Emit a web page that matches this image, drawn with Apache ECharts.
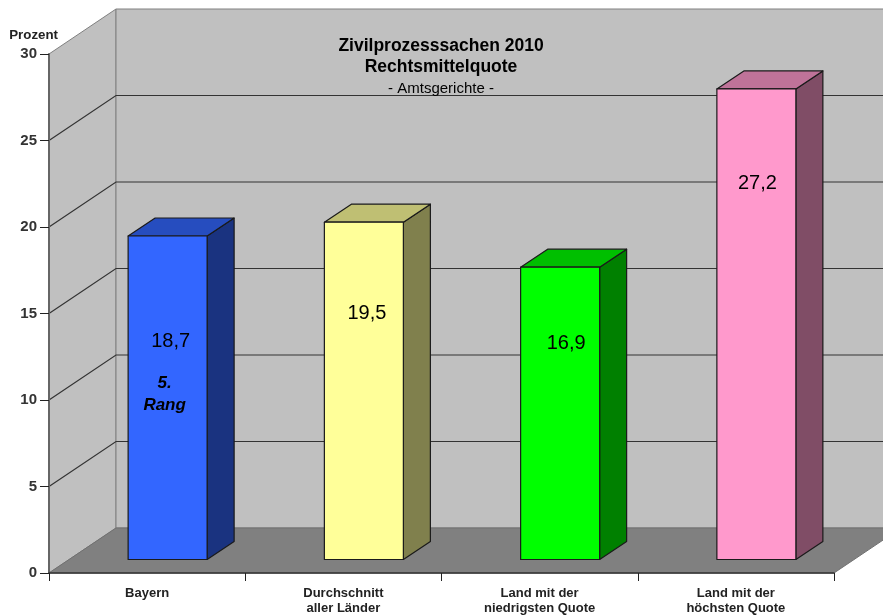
<!DOCTYPE html>
<html>
<head>
<meta charset="utf-8">
<style>html,body{margin:0;padding:0;background:#fff;overflow:hidden}#c{width:883px;height:616px}</style>
<script src="https://cdn.jsdelivr.net/npm/echarts@6/dist/echarts.min.js"></script>
</head>
<body>
<div id="c"></div>
<script>
const categories = ['Bayern', 'Durchschnitt\naller Länder', 'Land mit der\nniedrigsten Quote', 'Land mit der\nhöchsten Quote'];
const values = [18.7, 19.5, 16.9, 27.2];
const notes = ['5.\nRang', '', '', ''];
const yTicks = [0, 5, 10, 15, 20, 25, 30];

const frontColors = ['#3366ff', '#ffff99', '#00ff00', '#ff99cc'];
const topColors = ['#264dbf', '#bfbf73', '#00bf00', '#bf7399'];
const sideColors = ['#1a3380', '#80804d', '#008000', '#804d66'];
const labelY = [341, 313, 343, 183];
const labelX = [3, 3, 6, 1];
const noteY = [394, 0, 0, 0];

const WALL_DX = 67, WALL_DY = 45;
const BAR_DX = 20.5, BAR_DY = 13.5;
const DEPTH_DX = 27, DEPTH_DY = 18;
const BAR_W = 79;
const FONT = '"Liberation Sans", Arial, sans-serif';

function renderWalls(params, api) {
  const band = api.size([1, 0])[0];
  const o = api.coord([0, 0]);
  const x0 = o[0] - band / 2, y0 = o[1];
  const x1 = x0 + band * categories.length;
  const yTop = api.coord([0, 30])[1];
  const children = [];
  children.push({type: 'polygon', shape: {points: [[x0, y0], [x0 + WALL_DX, y0 - WALL_DY], [x0 + WALL_DX, yTop - WALL_DY], [x0, yTop]]},
    style: {fill: '#c0c0c0', stroke: '#808080', lineWidth: 1}});
  children.push({type: 'rect', shape: {x: x0 + WALL_DX, y: yTop - WALL_DY, width: x1 - x0, height: y0 - yTop},
    style: {fill: '#c0c0c0', stroke: '#808080', lineWidth: 1}});
  children.push({type: 'polygon', shape: {points: [[x0, y0], [x0 + WALL_DX, y0 - WALL_DY], [x1 + WALL_DX, y0 - WALL_DY], [x1, y0]]},
    style: {fill: '#808080', stroke: '#707070', lineWidth: 1}});
  yTicks.forEach(function (t) {
    if (t === 0 || t === 30) return;
    const y = api.coord([0, t])[1];
    children.push({type: 'polyline', shape: {points: [[x0, y], [x0 + WALL_DX, y - WALL_DY], [x1 + WALL_DX, y - WALL_DY]]},
      style: {fill: 'none', stroke: '#333333', lineWidth: 1.2}});
  });
  return {type: 'group', children: children};
}

function renderBar(params, api) {
  const i = api.value(0), v = api.value(1);
  const base = api.coord([i, 0]), top = api.coord([i, v]);
  const xl = base[0] + BAR_DX - BAR_W / 2, xr = xl + BAR_W;
  const yb = base[1] - BAR_DY, yt = top[1] - BAR_DY;
  const edge = {stroke: '#1a1a1a', lineWidth: 1.2, lineJoin: 'round'};
  const children = [
    {type: 'polygon', shape: {points: [[xr, yb], [xr + DEPTH_DX, yb - DEPTH_DY], [xr + DEPTH_DX, yt - DEPTH_DY], [xr, yt]]},
      style: Object.assign({fill: sideColors[i]}, edge)},
    {type: 'polygon', shape: {points: [[xl, yt], [xr, yt], [xr + DEPTH_DX, yt - DEPTH_DY], [xl + DEPTH_DX, yt - DEPTH_DY]]},
      style: Object.assign({fill: topColors[i]}, edge)},
    {type: 'rect', shape: {x: xl, y: yt, width: BAR_W, height: yb - yt},
      style: Object.assign({fill: frontColors[i]}, edge)},
    {type: 'text', x: (xl + xr) / 2 + labelX[i], y: labelY[i],
      style: {text: String(v).replace('.', ','), fill: '#000', font: '20px ' + FONT, align: 'center', verticalAlign: 'middle'}}
  ];
  if (notes[i]) {
    children.push({type: 'text', x: (xl + xr) / 2 - 3, y: noteY[i],
      style: {text: notes[i], fill: '#000', font: 'italic bold 17px ' + FONT, align: 'center', verticalAlign: 'middle', lineHeight: 22}});
  }
  return {type: 'group', children: children};
}

const chart = echarts.init(document.getElementById('c'), null, {renderer: 'canvas'});
chart.setOption({
  animation: false,
  backgroundColor: '#ffffff',
  title: [
    {text: 'Zivilprozesssachen 2010', left: 436, top: 32, textAlign: 'center', textStyle: {fontFamily: FONT, fontSize: 17.5, fontWeight: 'bold', color: '#000'}},
    {text: 'Rechtsmittelquote', left: 436, top: 53, textAlign: 'center', textStyle: {fontFamily: FONT, fontSize: 17.5, fontWeight: 'bold', color: '#000'}},
    {text: '- Amtsgerichte -', left: 436, top: 76, textAlign: 'center', textStyle: {fontFamily: FONT, fontSize: 15, fontWeight: 'normal', color: '#000'}}
  ],
  grid: {left: 49, right: 49, top: 54, bottom: 43, containLabel: false, outerBoundsMode: 'none'},
  xAxis: {
    type: 'category', data: categories, z: 5,
    axisLine: {lineStyle: {color: '#333', width: 1.5}},
    axisTick: {show: true, alignWithLabel: false, length: 8, lineStyle: {color: '#222'}},
    axisLabel: {interval: 0, fontFamily: FONT, fontSize: 13, fontWeight: 'bold', color: '#222', margin: 13, lineHeight: 15, verticalAlign: 'top'}
  },
  yAxis: {
    type: 'value', min: 0, max: 30, interval: 5, z: 5,
    name: 'Prozent', nameLocation: 'end', nameGap: 12,
    nameTextStyle: {fontFamily: FONT, fontSize: 13.3, fontWeight: 'bold', color: '#222', align: 'right', padding: [0, -9, 0, 0]},
    axisLine: {show: true, lineStyle: {color: '#666', width: 2}},
    axisTick: {show: true, length: 9, lineStyle: {color: '#222'}},
    axisLabel: {fontFamily: FONT, fontSize: 15, fontWeight: 'bold', color: '#333', margin: 12},
    splitLine: {show: false}
  },
  series: [
    {type: 'custom', coordinateSystem: 'cartesian2d', clip: false, z: 1, silent: true, renderItem: renderWalls, data: [[0, 0]], encode: {x: 0, y: 1}},
    {type: 'custom', coordinateSystem: 'cartesian2d', clip: false, z: 2, silent: true, renderItem: renderBar,
      data: values.map(function (v, i) { return [i, v]; }), encode: {x: 0, y: 1}}
  ]
});
</script>
</body>
</html>
